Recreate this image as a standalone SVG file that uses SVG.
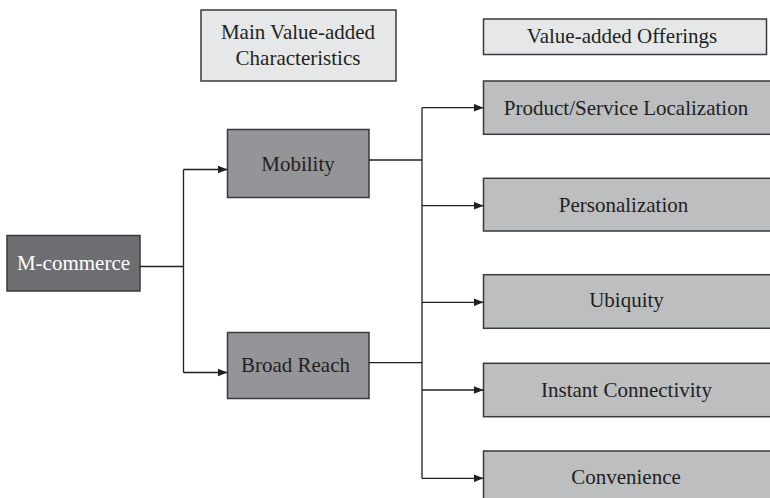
<svg xmlns="http://www.w3.org/2000/svg" width="770" height="498" viewBox="0 0 770 498">
<style>
.box{stroke:#3a3a3c;stroke-width:1.5}
.hdr{fill:#e6e7e8}
.root{fill:#6d6e71}
.mid{fill:#939598}
.leaf{fill:#bcbec0}
text{font-family:"Liberation Serif","DejaVu Serif",serif;font-size:21px;text-anchor:middle;fill:#231f20}
.wt{fill:#ffffff}
.conn path{fill:none;stroke:#231f20;stroke-width:1.3}
</style>
<defs>
<marker id="ah" markerUnits="userSpaceOnUse" markerWidth="10" markerHeight="8" refX="10" refY="4" orient="auto">
<path d="M0,0 L10,4 L0,8 z" fill="#231f20"/>
</marker>
</defs>
<rect width="770" height="498" fill="#ffffff"/>
<g id="header-characteristics">
<rect class="box hdr" x="201" y="10" width="195" height="71"/>
<text x="298" y="38.5">Main Value-added</text>
<text x="298" y="65">Characteristics</text>
</g>
<g id="header-offerings">
<rect class="box hdr" x="483.5" y="19" width="283" height="35.5"/>
<text x="622" y="42.7">Value-added Offerings</text>
</g>
<g id="m-commerce">
<rect class="box root" x="7" y="235.5" width="133" height="55.5"/>
<text class="wt" x="73.5" y="270">M-commerce</text>
</g>
<g id="mobility">
<rect class="box mid" x="227.5" y="129.5" width="141.5" height="68"/>
<text x="298" y="170.5">Mobility</text>
</g>
<g id="broad-reach">
<rect class="box mid" x="227.5" y="332.5" width="141.5" height="66"/>
<text x="295.5" y="371.7">Broad Reach</text>
</g>
<g id="localization">
<rect class="box leaf" x="483.5" y="81" width="290" height="53.3"/>
<text x="626" y="114.5">Product/Service Localization</text>
</g>
<g id="personalization">
<rect class="box leaf" x="483.5" y="178.3" width="290" height="52.7"/>
<text x="623.5" y="211.7">Personalization</text>
</g>
<g id="ubiquity">
<rect class="box leaf" x="483.5" y="274.7" width="290" height="53.6"/>
<text x="626.5" y="307.3">Ubiquity</text>
</g>
<g id="instant-connectivity">
<rect class="box leaf" x="483.5" y="363.3" width="290" height="53.4"/>
<text x="626.5" y="396.7">Instant Connectivity</text>
</g>
<g id="convenience">
<rect class="box leaf" x="483.5" y="451" width="290" height="52"/>
<text x="626" y="484">Convenience</text>
</g>
<g class="conn" id="connectors">
<path d="M140,266.5 H183.5"/>
<path d="M183.5,169.5 V372.5"/>
<path d="M183.5,169.5 H227.5" marker-end="url(#ah)"/>
<path d="M183.5,372.5 H227.5" marker-end="url(#ah)"/>
<path d="M369,160 H422"/>
<path d="M369,362.7 H422"/>
<path d="M422,107.7 V478.3"/>
<path d="M422,107.7 H483.5" marker-end="url(#ah)"/>
<path d="M422,205.7 H483.5" marker-end="url(#ah)"/>
<path d="M422,302.3 H483.5" marker-end="url(#ah)"/>
<path d="M422,390 H483.5" marker-end="url(#ah)"/>
<path d="M422,478.3 H483.5" marker-end="url(#ah)"/>
</g>
</svg>
